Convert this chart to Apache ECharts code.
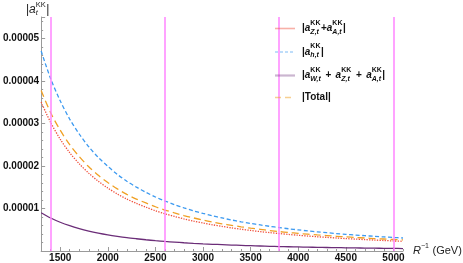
<!DOCTYPE html>
<html>
<head>
<meta charset="utf-8">
<script src="https://cdn.jsdelivr.net/npm/echarts@6/dist/echarts.min.js"></script>
<style>html,body{margin:0;padding:0;background:#fff}#c{width:463px;height:263px}</style>
</head>
<body>
<div id="c"></div>
<script>
// R^-1 values (GeV)
const R = [1300,1400,1500,1600,1700,1800,1900,2000,2100,2200,2300,2400,2500,2600,2700,2800,2900,3000,3100,3200,3300,3400,3500,3600,3700,3800,3900,4000,4100,4200,4300,4400,4500,4600,4700,4800,4900,5000,5100];
// |a_Z + a_A|
const zaSum = [3.50e-5,3.02e-5,2.63e-5,2.31e-5,2.05e-5,1.83e-5,1.64e-5,1.48e-5,1.34e-5,1.22e-5,1.12e-5,1.03e-5,0.946e-5,0.875e-5,0.811e-5,0.754e-5,0.703e-5,0.657e-5,0.616e-5,0.578e-5,0.543e-5,0.512e-5,0.483e-5,0.456e-5,0.432e-5,0.410e-5,0.389e-5,0.370e-5,0.352e-5,0.335e-5,0.320e-5,0.306e-5,0.292e-5,0.280e-5,0.268e-5,0.257e-5,0.246e-5,0.237e-5,0.227e-5];
// |a_h|
const hTerm = [4.70e-5,4.05e-5,3.53e-5,3.10e-5,2.75e-5,2.45e-5,2.20e-5,1.99e-5,1.80e-5,1.64e-5,1.50e-5,1.38e-5,1.27e-5,1.175e-5,1.09e-5,1.013e-5,0.944e-5,0.883e-5,0.827e-5,0.776e-5,0.729e-5,0.687e-5,0.648e-5,0.613e-5,0.580e-5,0.550e-5,0.522e-5,0.496e-5,0.472e-5,0.450e-5,0.430e-5,0.410e-5,0.392e-5,0.375e-5,0.360e-5,0.345e-5,0.331e-5,0.318e-5,0.305e-5];
// |a_W + a_Z + a_A|
const wzaSum = [0.900e-5,0.776e-5,0.676e-5,0.594e-5,0.526e-5,0.469e-5,0.421e-5,0.380e-5,0.345e-5,0.314e-5,0.288e-5,0.264e-5,0.243e-5,0.225e-5,0.209e-5,0.194e-5,0.181e-5,0.169e-5,0.158e-5,0.149e-5,0.140e-5,0.132e-5,0.124e-5,0.117e-5,0.111e-5,0.105e-5,0.100e-5,0.095e-5,0.090e-5,0.086e-5,0.082e-5,0.079e-5,0.075e-5,0.072e-5,0.069e-5,0.066e-5,0.063e-5,0.061e-5,0.058e-5];
// |Total|
const total = [3.77e-5,3.25e-5,2.84e-5,2.50e-5,2.22e-5,1.98e-5,1.78e-5,1.61e-5,1.46e-5,1.33e-5,1.22e-5,1.13e-5,1.04e-5,0.963e-5,0.895e-5,0.832e-5,0.778e-5,0.727e-5,0.682e-5,0.640e-5,0.604e-5,0.569e-5,0.537e-5,0.509e-5,0.481e-5,0.456e-5,0.434e-5,0.414e-5,0.395e-5,0.377e-5,0.361e-5,0.346e-5,0.331e-5,0.317e-5,0.305e-5,0.293e-5,0.282e-5,0.270e-5,0.260e-5];
// vertical reference lines
const vLines = [1400,2600,3800,5000];
// tick labels
const xTicks = [1500,2000,2500,3000,3500,4000,4500,5000];
const seriesNames = ['zaSum','hTerm','wzaSum','total'];

const FF = "'Liberation Sans', Arial, sans-serif";
const cvs = document.createElement('canvas').getContext('2d');
function tw(t, font){ cvs.font = font; return cvs.measureText(t).width; }

function mathText(x, cy, parts, o){
  const els = []; let cx = x;
  const mainF = it => `${it?'italic ':''}${o.weight} ${o.size}px ${FF}`;
  const smallF = it => `${it?'italic ':''}${o.sweight} ${o.ssize}px ${FF}`;
  for (const p of parts){
    if (p.gap){ cx += p.gap; continue; }
    if (p.m !== undefined){
      const f = mainF(p.it);
      els.push({type:'text', x:cx, y:cy, silent:true, z:10, style:{text:p.m, font:f, fill:o.color, align:'left', verticalAlign:'middle'}});
      cx += tw(p.m, f);
    } else {
      let w = 0;
      if (p.sup){ const f = smallF(false); els.push({type:'text', x:cx, y:cy+o.supDy, silent:true, z:10, style:{text:p.sup, font:f, fill:o.color, align:'left', verticalAlign:'middle'}}); w = Math.max(w, tw(p.sup,f)); }
      if (p.sub){ const f = smallF(true); els.push({type:'text', x:cx, y:cy+o.subDy, silent:true, z:10, style:{text:p.sub, font:f, fill:o.color, align:'left', verticalAlign:'middle'}}); w = Math.max(w, tw(p.sub,f)); }
      cx += w + 0.5;
    }
  }
  return els;
}

const styles = [
  {color:'#f0503c', width:1.3, type:'dotted'},
  {color:'#3d9af0', width:1.3, type:[4,2.5]},
  {color:'#6b2d78', width:1.3, type:'solid'},
  {color:'#f0a024', width:1.3, type:[7,4]}
];
const legendDash = [null, [3,2], null, [6,4]];
const legendW = [1.6, 1.4, 2.2, 1.4];
const legendOp = [0.45, 0.45, 0.35, 0.5];

const legOpt = {weight:'bold', size:10, sweight:'bold', ssize:7, color:'#111', supDy:-5.5, subDy:3.5};
const legendY = [28.5, 52, 75.5, 97.5];
const legendParts = [
  [{m:'|'},{m:'a',it:true},{sup:'KK',sub:'Z,t'},{m:'+'},{m:'a',it:true},{sup:'KK',sub:'A,t'},{m:'|'}],
  [{m:'|'},{m:'a',it:true},{sup:'KK',sub:'h,t'},{m:'|'}],
  [{m:'|'},{m:'a',it:true},{sup:'KK',sub:'W,t'},{gap:1.5},{m:' + '},{gap:1.5},{m:'a',it:true},{sup:'KK',sub:'Z,t'},{gap:1.5},{m:' + '},{gap:1.5},{m:'a',it:true},{sup:'KK',sub:'A,t'},{m:'|'}],
  [{m:'|Total|'}]
];
let graphics = [];
legendParts.forEach((p,i)=>{
  graphics.push({type:'line', silent:true, z:10, shape:{x1:275, y1:legendY[i], x2:295, y2:legendY[i]},
    style:{stroke:styles[i].color, lineWidth:legendW[i], lineDash:legendDash[i], opacity:legendOp[i]}});
  graphics = graphics.concat(mathText(302, legendY[i], p, legOpt));
});
graphics = graphics.concat(mathText(26, 9.5, [{m:'|'},{m:'a',it:true},{sup:'KK',sub:'t'},{m:'|'}], {weight:'normal', size:12, sweight:'normal', ssize:7.5, color:'#222', supDy:-5, subDy:3.5}));
graphics = graphics.concat(mathText(413, 250.5, [{m:'R',it:true},{sup:'\u22121'},{m:' (GeV)'}], {weight:'normal', size:11, sweight:'normal', ssize:7, color:'#222', supDy:-4.5, subDy:3}));

const data = [zaSum, hTerm, wzaSum, total];
const series = data.map((arr,i)=>({
  name: seriesNames[i], type:'line', xAxisIndex:0, yAxisIndex:0,
  data: R.map((r,k)=>[r, arr[k]]), symbol:'none', smooth:0.3,
  lineStyle: styles[i], itemStyle:{color:styles[i].color}, z:3, animation:false
}));
series.unshift({
  type:'line', data:[], symbol:'none', z:1, silent:true, animation:false,
  markLine:{silent:true, symbol:['none','none'], label:{show:false}, animation:false,
    lineStyle:{color:'#ff85ff', width:1.5, type:'solid'},
    data: vLines.map(v=>({xAxis:v}))}
});

const axisGray = '#9a9a9a';
const chart = echarts.init(document.getElementById('c'), null, {renderer:'canvas'});
chart.setOption({
  animation:false,
  grid:{left:37, right:60, top:17, bottom:11, containLabel:false},
  xAxis:[{
    type:'value', min:1300, max:5100,
    axisLine:{show:true, lineStyle:{color:axisGray, width:1}},
    axisTick:{show:true, inside:true, length:4, lineStyle:{color:axisGray}, customValues:xTicks},
    axisLabel:{show:true, margin:2, fontSize:10, fontWeight:'bold', color:'#111', fontFamily:FF, customValues:xTicks, formatter: v => String(v)},
    splitLine:{show:false}
  },{
    type:'value', min:1300, max:5100, interval:100, position:'bottom', gridIndex:0,
    axisLine:{show:false}, axisLabel:{show:false}, splitLine:{show:false},
    axisTick:{show:true, inside:true, length:2, lineStyle:{color:axisGray}}
  }],
  yAxis:{
    type:'value', min:0, max:0.000055, interval:0.00001,
    axisLine:{show:true, lineStyle:{color:axisGray, width:1}},
    axisTick:{show:true, inside:true, length:4, lineStyle:{color:axisGray}},
    minorTick:{show:true, splitNumber:5, length:2, lineStyle:{color:axisGray}},
    axisLabel:{show:true, margin:2, fontSize:10, fontWeight:'bold', color:'#111', fontFamily:FF,
      formatter: v => { const q = v/1e-5; if (v===0 || Math.abs(q-Math.round(q))>1e-6) return ''; return (Math.round(q)*1e-5).toFixed(5); }},
    splitLine:{show:false}
  },
  series: series,
  graphic: graphics
});
</script>
</body>
</html>
